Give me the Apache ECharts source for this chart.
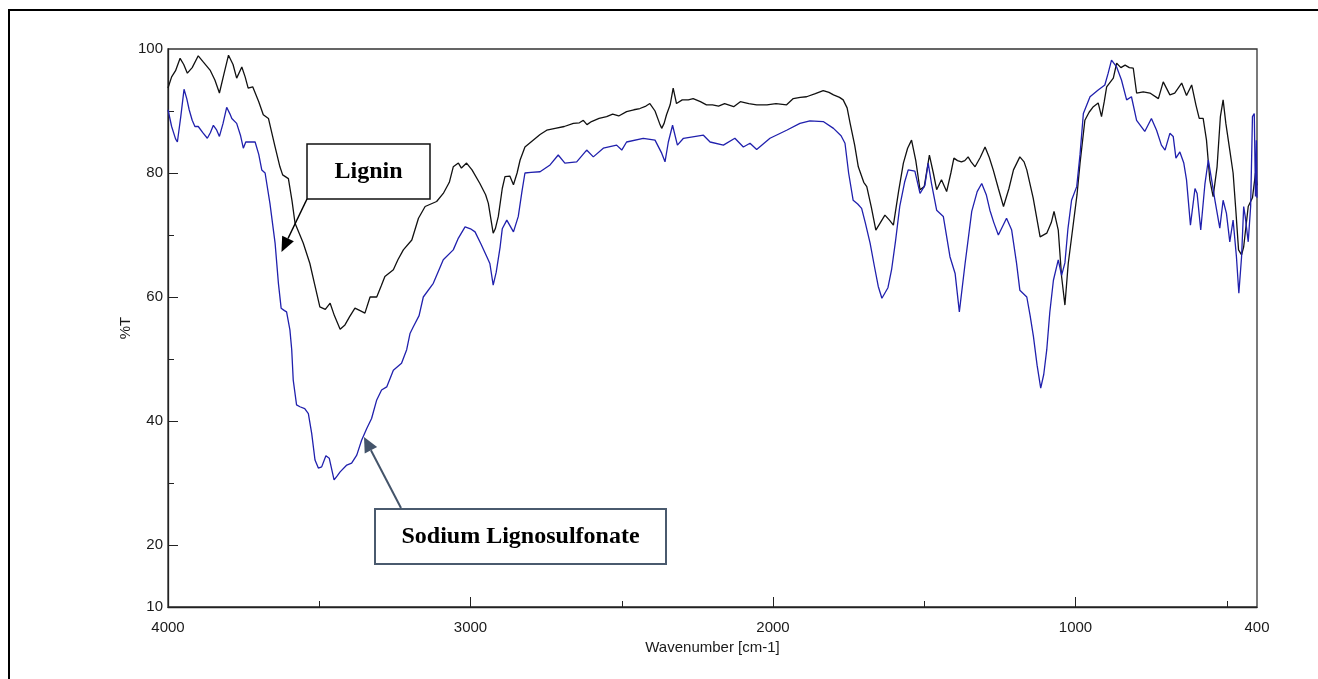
<!DOCTYPE html>
<html><head><meta charset="utf-8">
<script src="https://cdn.jsdelivr.net/npm/echarts@6/dist/echarts.min.js"></script>
<style>html,body{margin:0;padding:0;background:#fff}#c{width:1318px;height:679px}</style>
</head><body><div id="c"></div>
<script>
// Lignin (black) spectrum: wavenumber [cm-1] and %T
const ligninWn = [4000,3988,3975,3960,3948,3936,3920,3900,3885,3861,3845,3830,3815,3800,3795,3785,3773,3756,3745,3735,3720,3700,3685,3668,3646,3630,3621,3602,3590,3580,3553,3531,3515,3498,3480,3464,3450,3431,3415,3400,3382,3365,3349,3332,3310,3295,3283,3255,3240,3222,3194,3172,3150,3112,3090,3070,3057,3040,3030,3013,2995,2969,2950,2941,2925,2918,2908,2895,2886,2870,2858,2846,2836,2820,2800,2770,2748,2720,2690,2660,2640,2627,2615,2600,2575,2550,2530,2510,2484,2460,2440,2420,2407,2390,2375,2368,2360,2352,2340,2330,2319,2300,2280,2264,2240,2220,2200,2180,2160,2130,2108,2080,2054,2020,1990,1955,1933,1910,1889,1860,1834,1815,1800,1780,1768,1755,1745,1730,1718,1700,1690,1675,1660,1645,1630,1615,1602,1585,1569,1555,1542,1528,1514,1500,1483,1470,1459,1443,1426,1412,1402,1390,1377,1366,1355,1345,1332,1315,1299,1285,1272,1255,1238,1220,1205,1184,1170,1161,1140,1117,1095,1080,1071,1057,1046,1035,1024,1007,995,985,969,955,941,925,914,905,897,875,864,850,836,822,809,798,776,754,726,710,688,672,649,633,616,602,591,578,567,556,545,532,521,512,503,490,479,470,461,451,444,429,415,405,400];
const ligninT = [93.7,95.5,96.5,98.5,97.5,96.1,97.0,98.9,98.0,96.6,95.0,92.9,96.0,99.0,99.3,97.5,95.3,97.1,95.5,93.7,93.9,91.5,89.4,88.8,84.2,81.0,79.7,79.1,75.5,71.9,68.7,65.4,62.0,58.4,58.0,59.0,57.0,54.8,55.5,56.8,58.2,57.8,57.4,60.0,60.0,61.8,63.3,64.4,66.0,67.6,69.2,72.7,74.6,75.4,76.7,78.5,81.0,81.6,80.8,81.6,80.5,78.3,76.5,75.1,70.3,71.0,73.0,77.5,79.4,79.5,78.1,80.0,82.1,84.2,85.0,86.2,86.9,87.2,87.5,88.0,88.1,88.5,87.8,88.3,88.8,89.1,89.5,89.2,89.9,90.2,90.4,90.8,91.2,90.0,88.0,87.2,88.0,89.4,91.0,93.7,91.2,91.8,91.8,92.0,91.5,91.0,91.0,90.8,91.2,90.7,91.5,91.2,91.0,91.0,91.2,91.0,92.0,92.2,92.3,92.8,93.3,93.0,92.6,92.2,91.8,90.5,88.0,84.5,81.0,78.5,77.8,74.5,70.8,72.0,73.2,72.4,71.6,77.0,81.6,84.0,85.3,82.0,77.3,77.8,82.9,80.0,77.3,78.9,77.0,80.0,82.4,82.0,81.8,82.0,82.6,81.8,81.0,82.5,84.2,82.5,80.5,77.5,74.6,77.5,80.5,82.6,81.8,80.5,76.0,69.7,70.3,72.0,73.8,70.8,63.3,58.7,65.4,71.9,76.5,81.6,88.5,89.8,90.7,91.3,89.1,91.5,93.9,95.3,97.7,97.0,97.4,97.0,96.9,92.9,93.1,92.9,92.0,94.7,92.6,92.9,94.5,92.5,94.2,91.0,88.8,88.8,85.3,78.9,76.2,81.0,89.1,91.8,88.0,83.7,80.0,74.0,67.6,66.8,68.1,74.6,76.0,80.0,78.0];

// Sodium Lignosulfonate (blue) spectrum
const slsWn = [4000,3988,3975,3969,3958,3947,3938,3930,3920,3911,3900,3885,3870,3860,3850,3840,3830,3818,3806,3795,3789,3773,3760,3751,3743,3735,3712,3700,3690,3679,3663,3646,3635,3626,3615,3608,3597,3591,3586,3575,3564,3548,3536,3525,3514,3503,3492,3478,3467,3451,3440,3431,3409,3393,3376,3360,3343,3327,3310,3294,3277,3255,3228,3211,3200,3189,3170,3156,3123,3090,3057,3040,3018,3000,2985,2965,2946,2936,2925,2915,2902,2895,2880,2858,2842,2830,2820,2800,2770,2737,2710,2688,2649,2616,2594,2561,2517,2500,2484,2429,2390,2368,2357,2346,2332,2316,2296,2230,2208,2164,2126,2098,2076,2054,2010,1955,1911,1878,1834,1800,1775,1762,1750,1735,1720,1707,1695,1679,1665,1652,1640,1635,1620,1608,1595,1581,1565,1553,1531,1514,1498,1487,1476,1459,1437,1415,1398,1384,1365,1343,1325,1310,1295,1283,1270,1255,1240,1228,1211,1195,1184,1161,1150,1139,1127,1115,1105,1095,1085,1073,1057,1046,1035,1025,1013,996,985,974,952,925,903,892,881,864,848,831,815,798,771,749,732,716,704,688,677,668,655,642,633,620,605,598,586,572,561,550,539,523,512,501,490,479,468,460,451,444,439,429,421,415,409,405,402,400];
const slsT = [90.2,87.5,85.5,85.0,89.0,93.5,92.0,90.2,88.5,87.5,87.5,86.5,85.6,86.5,87.7,87.0,85.9,88.0,90.6,89.5,88.8,88.0,86.0,84.0,85.0,85.0,85.0,83.0,80.5,80.0,75.1,68.7,62.2,58.2,57.8,57.6,54.7,51.5,46.6,42.6,42.3,42.0,41.2,38.0,33.7,32.4,32.6,34.4,34.0,30.5,31.2,31.8,32.9,33.2,34.5,36.9,38.8,40.4,43.4,45.0,45.5,48.2,49.3,51.5,54.1,55.2,57.0,60.0,62.2,66.0,67.6,69.5,71.3,71.0,70.5,68.5,66.5,65.4,61.9,64.0,68.1,71.0,72.4,70.5,73.0,77.0,80.0,80.1,80.2,81.3,82.9,81.6,81.8,83.7,82.6,84.0,84.5,83.7,85.0,85.6,85.3,83.2,81.8,85.0,87.7,84.5,85.6,86.1,85.0,84.5,85.6,84.2,84.8,83.8,85.6,86.9,88.0,88.4,88.3,87.2,86.0,84.8,80.0,75.6,75.0,74.3,72.0,68.7,65.0,61.7,59.8,59.5,61.5,64.4,69.0,74.6,78.5,80.5,80.3,76.7,78.0,81.6,78.3,74.0,73.0,66.5,63.8,57.6,65.4,73.8,77.0,78.3,76.5,74.0,72.0,70.0,71.5,72.7,70.8,65.5,61.1,60.0,57.0,53.6,49.0,45.3,47.5,51.5,57.5,62.7,66.0,63.5,65.5,71.0,75.6,77.8,83.0,89.6,92.3,93.4,94.2,96.1,98.2,97.1,95.0,91.8,92.3,88.5,86.7,88.8,86.9,84.5,83.7,86.4,85.9,82.4,83.4,81.6,78.9,71.6,77.5,76.7,70.8,78.3,82.1,78.9,75.6,71.1,75.6,73.5,68.9,72.4,66.5,60.6,66.5,74.6,73.0,68.9,74.6,89.1,89.6,76.2,85.3,76.0];

// Axis ticks and labels
const xMajorTicks = [4000,3000,2000,1000];
const xMinorTicks = [3500,2500,1500,500];
const xTickLabels = [4000,3000,2000,1000,400];
const yMajorTicks = [20,40,60,80];
const yMinorTicks = [30,50,70,90];
const yTickLabels = [10,20,40,60,80,100];

const zip = (a, b) => a.map((v, i) => [v, b[i]]);
const chart = echarts.init(document.getElementById('c'), null, {renderer: 'canvas'});

function arrow(x1, y1, x2, y2, color, lw, hl, hw) {
  const dx = x2 - x1, dy = y2 - y1, L = Math.hypot(dx, dy);
  const ux = dx / L, uy = dy / L;
  const bx = x2 - ux * hl, by = y2 - uy * hl;
  const nx = -uy, ny = ux;
  return [
    {type: 'line', z: 100, shape: {x1: x1, y1: y1, x2: bx, y2: by}, style: {stroke: color, lineWidth: lw}},
    {type: 'polygon', z: 100, shape: {points: [[x2, y2], [bx + nx * hw, by + ny * hw], [bx - nx * hw, by - ny * hw]]}, style: {fill: color}}
  ];
}

const labelFont = {color: '#1a1a1a', fontFamily: 'Liberation Sans', fontSize: 15};
const plain = v => String(v);
const xBase = {
  type: 'value', min: 400, max: 4000, inverse: true,
  splitLine: {show: false}
};
const yBase = {
  type: 'value', min: 10, max: 100,
  splitLine: {show: false}
};

const option = {
  backgroundColor: '#fff',
  animation: false,
  grid: {left: 168, right: 61, top: 49, bottom: 72, show: true, borderColor: '#333', borderWidth: 1.3},
  xAxis: [
    Object.assign({}, xBase, {
      name: 'Wavenumber [cm-1]', nameLocation: 'middle', nameGap: 30,
      nameTextStyle: labelFont,
      axisLine: {show: true, lineStyle: {color: '#222', width: 1.3}},
      axisTick: {show: true, inside: true, length: 10, customValues: xMajorTicks, lineStyle: {color: '#222'}},
      axisLabel: Object.assign({show: true, margin: 13, customValues: xTickLabels, showMinLabel: true, showMaxLabel: true, formatter: plain}, labelFont)
    }),
    Object.assign({}, xBase, {
      position: 'bottom',
      axisLine: {show: false},
      axisTick: {show: true, inside: true, length: 6, customValues: xMinorTicks, lineStyle: {color: '#222'}},
      axisLabel: {show: false}
    })
  ],
  yAxis: [
    Object.assign({}, yBase, {
      name: '%T', nameLocation: 'middle', nameGap: 35, nameRotate: 90, nameMoveOverlap: false,
      nameTextStyle: labelFont,
      axisLine: {show: true, lineStyle: {color: '#222', width: 1.3}},
      axisTick: {show: true, inside: true, length: 10, customValues: yMajorTicks, lineStyle: {color: '#222'}},
      axisLabel: Object.assign({show: true, margin: 5, customValues: yTickLabels, showMinLabel: true, showMaxLabel: true, formatter: plain}, labelFont)
    }),
    Object.assign({}, yBase, {
      position: 'left',
      axisLine: {show: false},
      axisTick: {show: true, inside: true, length: 6, customValues: yMinorTicks, lineStyle: {color: '#222'}},
      axisLabel: {show: false}
    })
  ],
  series: [
    {
      name: 'Lignin', type: 'line', xAxisIndex: 0, yAxisIndex: 0,
      data: zip(ligninWn, ligninT), showSymbol: false, symbol: 'none',
      lineStyle: {color: '#111', width: 1.3}, z: 3
    },
    {
      name: 'Sodium Lignosulfonate', type: 'line', xAxisIndex: 0, yAxisIndex: 0,
      data: zip(slsWn, slsT), showSymbol: false, symbol: 'none',
      lineStyle: {color: '#2020ad', width: 1.3}, z: 4
    }
  ],
  graphic: [
    {type: 'rect', z: 0, shape: {x: 9, y: 10, width: 1400, height: 800}, style: {fill: 'none', stroke: '#000', lineWidth: 2}},
    {type: 'rect', z: 100, shape: {x: 307, y: 144, width: 123, height: 55}, style: {fill: '#fff', stroke: '#111', lineWidth: 1.5}},
    {type: 'text', z: 101, x: 368.5, y: 172, style: {text: 'Lignin', font: 'bold 24px "Liberation Serif"', fill: '#000', align: 'center', verticalAlign: 'middle'}},
    ...arrow(307, 199, 281.5, 252, '#000', 1.5, 15, 6.5),
    {type: 'rect', z: 100, shape: {x: 375, y: 509, width: 291, height: 55}, style: {fill: '#fff', stroke: '#4a5a6e', lineWidth: 2}},
    {type: 'text', z: 101, x: 520.5, y: 536.5, style: {text: 'Sodium Lignosulfonate', font: 'bold 24px "Liberation Serif"', fill: '#000', align: 'center', verticalAlign: 'middle'}},
    ...arrow(401, 508, 364, 437, '#44546a', 2, 15, 7)
  ]
};
chart.setOption(option);
</script>
</body></html>
